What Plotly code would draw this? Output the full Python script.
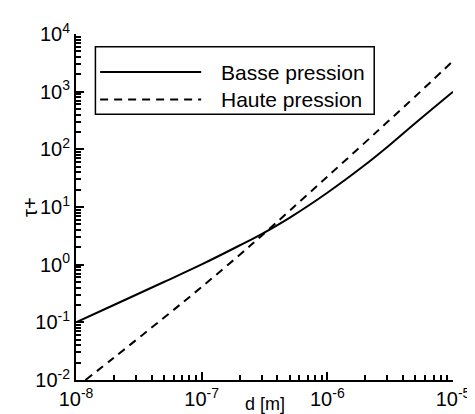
import plotly.graph_objects as go

# values (log-log)
d_basse = [1e-8, 2e-8, 5e-8, 1e-7, 2e-7, 3e-7, 5e-7, 1e-6, 2e-6, 3e-6, 5e-6, 1e-5]
tau_basse = [0.10, 0.20, 0.50, 1.01, 2.15, 3.4, 6.5, 17.7, 54, 110, 284, 1000]

d_haute = [1.19e-8, 2e-8, 5e-8, 1e-7, 2e-7, 3e-7, 5e-7, 1e-6, 2e-6, 3e-6, 5e-6, 1e-5]
tau_haute = [0.010, 0.0243, 0.120, 0.411, 1.47, 3.18, 8.57, 33.6, 132, 297, 824, 3400]

names = ["Basse pression", "Haute pression"]
dashes = ["solid", "8px,6px"]

x_exps = [-8, -7, -6, -5]
y_exps = [-2, -1, 0, 1, 2, 3, 4]

FONT = "Arial, Liberation Sans, sans-serif"

fig = go.Figure()

fig.add_trace(go.Scatter(x=d_basse, y=tau_basse, mode="lines", name=names[0],
                         line=dict(color="black", width=2, dash=dashes[0], shape="spline")))
fig.add_trace(go.Scatter(x=d_haute, y=tau_haute, mode="lines", name=names[1],
                         line=dict(color="black", width=2, dash=dashes[1], shape="spline")))

axis_common = dict(
    type="log", showgrid=False, zeroline=False,
    showline=True, linecolor="black", linewidth=2,
    ticks="inside", ticklen=8, tickwidth=1.5, tickcolor="black",
    minor=dict(dtick="D1", ticks="inside", ticklen=5, tickwidth=1.5,
               tickcolor="black", showgrid=False),
    tickfont=dict(family=FONT, size=20, color="black"),
)
fig.update_xaxes(range=[-8, -5], tickvals=[10.0 ** e for e in x_exps],
                 ticktext=[f"10<sup>{e}</sup>" for e in x_exps], **axis_common)
fig.update_yaxes(range=[-2, 4], tickvals=[10.0 ** e for e in y_exps],
                 ticktext=[f"10<sup>{e}</sup>" for e in y_exps], **axis_common)

# hand-drawn legend box (long line samples as in the original)
shapes = [dict(type="rect", xref="paper", yref="paper", x0=0.0515, x1=0.791, y0=0.768, y1=0.963,
               line=dict(color="black", width=1.5), fillcolor="white")]
for i, yy in enumerate([0.890, 0.811]):
    shapes.append(dict(type="line", xref="paper", yref="paper", x0=0.064, x1=0.332, y0=yy, y1=yy,
                       line=dict(color="black", width=2, dash=dashes[i])))

annotations = []
for i, yy in enumerate([0.890, 0.811]):
    annotations.append(dict(text=names[i], xref="paper", yref="paper", x=0.379, y=yy,
                            xanchor="left", yanchor="middle", showarrow=False,
                            font=dict(family=FONT, size=21, color="black")))
# axis titles
annotations.append(dict(text="d [m]", xref="paper", yref="paper", x=0.5, y=-0.07,
                        xanchor="center", yanchor="middle", showarrow=False,
                        font=dict(family=FONT, size=18, color="black")))
annotations.append(dict(text="τ+", xref="paper", yref="paper", x=-0.122, y=0.5, textangle=-90,
                        xanchor="center", yanchor="middle", showarrow=False,
                        font=dict(family=FONT, size=20, color="black")))

fig.update_layout(
    width=475, height=414,
    margin=dict(l=68, r=19, t=23, b=37),
    plot_bgcolor="white", paper_bgcolor="white",
    showlegend=False,
    shapes=shapes, annotations=annotations,
    font=dict(family=FONT, size=20, color="black"),
)

fig.write_html("out.html")
